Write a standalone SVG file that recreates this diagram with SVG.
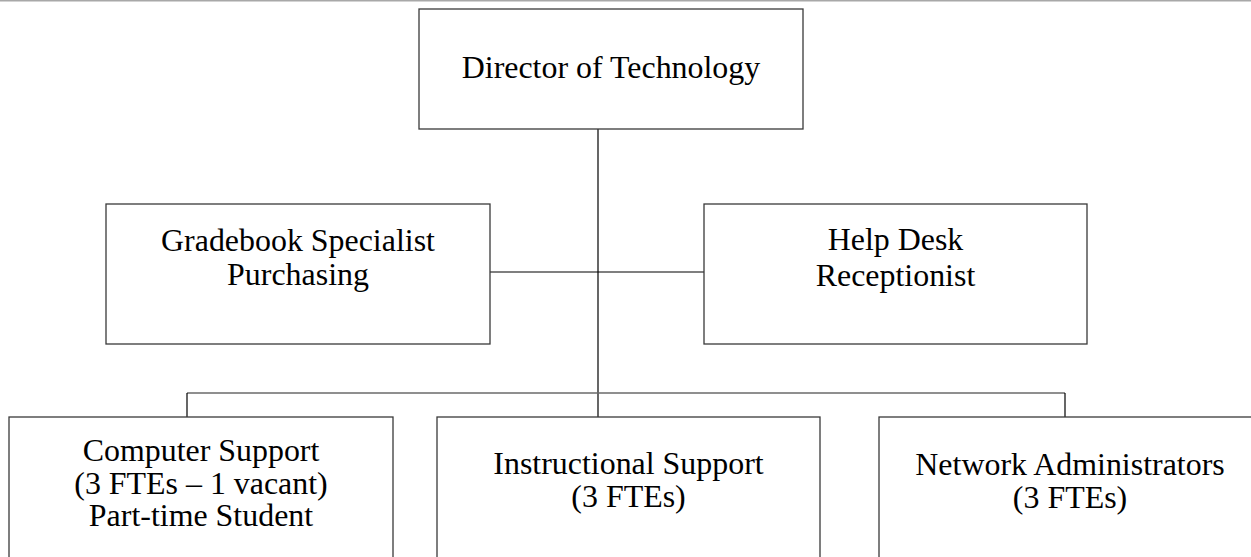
<svg xmlns="http://www.w3.org/2000/svg" width="1251" height="557" viewBox="0 0 1251 557">
  <style>
    .box { fill: #ffffff; stroke: #3a3a3a; stroke-width: 1.3; }
    .lbl { font-family: "Liberation Serif", "Times New Roman", serif; font-size: 31px; fill: #000000; text-anchor: middle; }
    .wire { stroke: #000000; stroke-width: 1.2; fill: none; }
    .bar { stroke: #6a6a6a; stroke-width: 1.4; fill: none; }
  </style>
  <rect x="0" y="0" width="1251" height="557" fill="#ffffff"/>
  <line x1="0" y1="0.8" x2="1251" y2="0.8" stroke="#a8a8a8" stroke-width="1.6"/>

  <g id="connectors">
    <line class="wire" x1="598" y1="129" x2="598" y2="417"/>
    <line class="wire" x1="490" y1="272" x2="704" y2="272"/>
    <line class="bar" x1="187" y1="393" x2="1065" y2="393"/>
    <line class="wire" x1="187" y1="393" x2="187" y2="417" stroke-width="2"/>
    <line class="wire" x1="1065" y1="393" x2="1065" y2="417" stroke-width="2"/>
  </g>

  <g id="director">
    <rect class="box" x="419" y="9" width="384" height="120"/>
    <text class="lbl" transform="translate(611 78) scale(1.03 1)">Director of Technology</text>
  </g>

  <g id="gradebook">
    <rect class="box" x="106" y="204" width="384" height="140"/>
    <text class="lbl" transform="translate(298 251) scale(1.03 1)">Gradebook Specialist</text>
    <text class="lbl" transform="translate(298 285) scale(1.03 1)">Purchasing</text>
  </g>

  <g id="helpdesk">
    <rect class="box" x="704" y="204" width="383" height="140"/>
    <text class="lbl" transform="translate(895.5 250) scale(1.03 1)">Help Desk</text>
    <text class="lbl" transform="translate(895.5 286) scale(1.03 1)">Receptionist</text>
  </g>

  <g id="computer-support">
    <rect class="box" x="9" y="417" width="384" height="160"/>
    <text class="lbl" transform="translate(201 461) scale(1.03 1)">Computer Support</text>
    <text class="lbl" transform="translate(201 493.5) scale(1.03 1)">(3 FTEs – 1 vacant)</text>
    <text class="lbl" transform="translate(201 526) scale(1.03 1)">Part-time Student</text>
  </g>

  <g id="instructional-support">
    <rect class="box" x="437" y="417" width="383" height="160"/>
    <text class="lbl" transform="translate(628.5 474) scale(1.03 1)">Instructional Support</text>
    <text class="lbl" transform="translate(628.5 507) scale(1.03 1)">(3 FTEs)</text>
  </g>

  <g id="network-administrators">
    <rect class="box" x="879" y="417" width="383" height="160"/>
    <text class="lbl" transform="translate(1070 475) scale(1.03 1)">Network Administrators</text>
    <text class="lbl" transform="translate(1070 508) scale(1.03 1)">(3 FTEs)</text>
  </g>
</svg>
